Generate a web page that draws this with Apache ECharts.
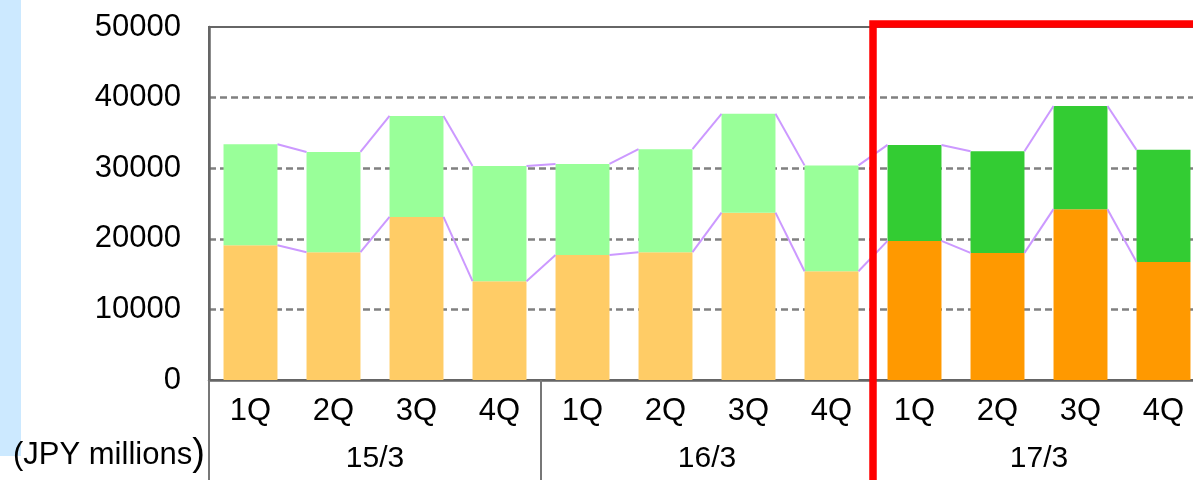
<!DOCTYPE html>
<html>
<head>
<meta charset="utf-8">
<script src="https://cdn.jsdelivr.net/npm/echarts@6/dist/echarts.min.js"></script>
<style>
  html, body { margin: 0; padding: 0; background: #ffffff; overflow: hidden; }
  #chart { width: 1210px; height: 480px; }
</style>
</head>
<body>
<div id="chart"></div>
<script>
// Quarterly figures (JPY millions), fiscal years ending March
const quarters = ['1Q', '2Q', '3Q', '4Q', '1Q', '2Q', '3Q', '4Q', '1Q', '2Q', '3Q', '4Q'];
const fiscalYears = ['15/3', '16/3', '17/3'];
const lowerValues = [19100, 18100, 23100, 14000, 17700, 18100, 23700, 15400, 19700, 18000, 24200, 16700];
const upperValues = [14300, 14200, 14300, 16300, 12900, 14600, 14000, 15000, 13600, 14400, 14600, 15900];
const yTicks = [0, 10000, 20000, 30000, 40000, 50000];
const highlightStart = 8; // first quarter of the highlighted year

const lowerPast = '#ffcc66', lowerCurrent = '#ff9900';
const upperPast = '#99ff99', upperCurrent = '#33cc33';
const BAR_RATIO = 0.65;

const totals = lowerValues.map((v, i) => v + upperValues[i]);

const lowerData = lowerValues.map((v, i) => ({
  value: v, itemStyle: { color: i >= highlightStart ? lowerCurrent : lowerPast }
}));
const upperData = upperValues.map((v, i) => ({
  value: v, itemStyle: { color: i >= highlightStart ? upperCurrent : upperPast }
}));

// Connector lines between neighbouring bars (stack top and segment boundary)
const connectorData = [];
for (let i = 0; i < quarters.length - 1; i++) {
  connectorData.push([i, totals[i], totals[i + 1], lowerValues[i], lowerValues[i + 1]]);
}

function renderConnector(params, api) {
  const i = api.value(0);
  const half = api.size([1, 0])[0] * BAR_RATIO / 2;
  const x0 = api.coord([i, 0])[0] + half;
  const x1 = api.coord([i + 1, 0])[0] - half;
  const style = { stroke: '#cc99ff', lineWidth: 2, fill: null };
  return {
    type: 'group',
    children: [
      { type: 'line', shape: { x1: x0, y1: api.coord([i, api.value(1)])[1], x2: x1, y2: api.coord([i, api.value(2)])[1] }, style: style },
      { type: 'line', shape: { x1: x0, y1: api.coord([i, api.value(3)])[1], x2: x1, y2: api.coord([i, api.value(4)])[1] }, style: style }
    ]
  };
}

// Red frame around the highlighted fiscal year
function renderFrame(params, api) {
  const band = api.size([1, 0])[0];
  const x = api.coord([api.value(0), 0])[0] - band / 2;
  const yTop = api.coord([api.value(0), api.value(1)])[1] - 3;
  return {
    type: 'polyline',
    shape: { points: [[x, 520], [x, yTop], [2000, yTop]] },
    style: { stroke: '#ff0000', lineWidth: 7.5, fill: null, lineJoin: 'miter' },
    z2: 100
  };
}

const FONT = '"Liberation Sans", Arial, sans-serif';

const chart = echarts.init(document.getElementById('chart'), null, { renderer: 'canvas' });
chart.setOption({
  animation: false,
  backgroundColor: '#ffffff',
  graphic: [
    { type: 'rect', left: 0, top: 0, shape: { width: 21, height: 456 }, style: { fill: '#cce9ff' }, z: -10 },
    {
      type: 'text', left: 13, top: 436,
      style: {
        text: '{a|(JPY millions}{b|)}',
        rich: {
          a: { fontSize: 31, fontFamily: FONT, fill: '#000', verticalAlign: 'middle', lineHeight: 38 },
          b: { fontSize: 38, fontFamily: FONT, fill: '#000', verticalAlign: 'middle', lineHeight: 38 }
        }
      }
    }
  ],
  grid: {
    left: 209, right: 5, top: 27, bottom: 100,
    show: true, borderColor: '#666666', borderWidth: 2, backgroundColor: 'transparent'
  },
  xAxis: [
    {
      type: 'category', data: quarters, gridIndex: 0,
      axisLine: { lineStyle: { color: '#666666', width: 2.5 } },
      axisTick: { show: false },
      axisLabel: { fontSize: 31, fontFamily: FONT, color: '#000', margin: 16, interval: 0 }
    },
    {
      type: 'category', data: fiscalYears, gridIndex: 0, position: 'bottom',
      axisLine: { show: false },
      axisTick: { show: true, length: 100, interval: 0, lineStyle: { color: '#777777', width: 2 } },
      axisLabel: { fontSize: 30, fontFamily: FONT, color: '#000', margin: 64, interval: 0 }
    }
  ],
  yAxis: {
    type: 'value', min: yTicks[0], max: yTicks[yTicks.length - 1], interval: yTicks[1] - yTicks[0],
    axisLine: { show: true, lineStyle: { color: '#666666', width: 2.5 } },
    axisTick: { show: false },
    axisLabel: { fontSize: 31, fontFamily: FONT, color: '#000', margin: 28, formatter: v => String(v) },
    splitLine: { showMinLine: false, showMaxLine: false, lineStyle: { color: '#808080', width: 2.5, type: [7, 4] } }
  },
  series: [
    { name: 'lower', type: 'bar', stack: 'q', data: lowerData, barWidth: (BAR_RATIO * 100) + '%', xAxisIndex: 0 },
    { name: 'upper', type: 'bar', stack: 'q', data: upperData, barWidth: (BAR_RATIO * 100) + '%', xAxisIndex: 0 },
    { name: 'connectors', type: 'custom', xAxisIndex: 0, renderItem: renderConnector, data: connectorData, z: 3, silent: true },
    { name: 'frame', type: 'custom', xAxisIndex: 0, renderItem: renderFrame, data: [[highlightStart, yTicks[yTicks.length - 1]]], z: 10, clip: false, silent: true }
  ]
});
</script>
</body>
</html>
